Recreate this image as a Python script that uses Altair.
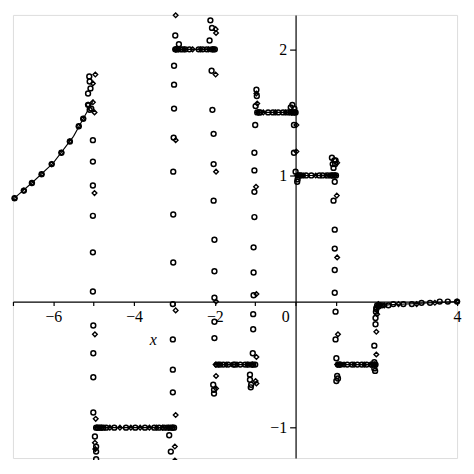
import altair as alt
import pandas as pd

# ---------------- data ----------------
# exact piecewise function, drawn as a thin line per segment
line_seg = ["A"] * 5 + ["B"] * 2 + ["C"] * 2 + ["D"] * 2 + ["E"] * 2 + ["F"] * 2 + ["G"] * 2 + ["H"] * 3
line_x = [-7.0, -6.5, -6.0, -5.5, -5.0,
          -5.0, -3.0,
          -3.0, -2.0,
          -2.0, -1.0,
          -1.0, 0.0,
          0.0, 1.0,
          1.0, 2.0,
          2.0, 3.0, 4.0]
line_y = [0.81, 0.95, 1.10, 1.31, 1.60,
          -1.0, -1.0,
          2.0, 2.0,
          -0.5, -0.5,
          1.5, 1.5,
          1.0, 1.0,
          -0.5, -0.5,
          -0.03, -0.015, 0.0]

# circle-marker approximation
circ_x = [
    # curve x < -5
    -6.96, -6.73, -6.53, -6.29, -6.04, -5.80, -5.59, -5.37, -5.26, -5.14,
    -5.11, -5.10, -5.14, -5.08, -5.10, -5.06,
    # column at -5
    -5.02, -5.02, -5.02, -5.02, -5.02, -5.02, -5.01, -5.01, -5.01, -5.01, -4.97, -4.94, -4.94, -4.94,
    # flat -1
    -4.94, -4.90, -4.86, -4.82, -4.76, -4.69, -4.49, -4.20, -3.97, -3.73, -3.50, -3.38, -3.26, -3.18, -3.10, -3.05, -3.01,
    # column at -3
    -2.98, -2.89, -3.01, -3.01, -3.01, -3.02, -3.03, -3.03, -3.03, -3.04, -3.04, -3.04, -3.04, -3.13, -3.09,
    # flat 2
    -2.98, -2.96, -2.93, -2.85, -2.80, -2.73, -2.63, -2.40, -2.30, -2.20, -2.08, -2.03, -2.0,
    # column at -2
    -2.11, -2.07, -2.13, -2.08, -2.06, -2.03, -2.03, -2.03, -2.01, -2.01, -2.01, -2.01, -2.01, -2.04, -2.02, -2.02,
    # flat -0.5
    -1.95, -1.87, -1.79, -1.67, -1.54, -1.50, -1.37, -1.25, -1.17, -1.09, -1.05, -1.0,
    # column at -1
    -0.97, -0.96, -0.99, -1.0, -1.02, -1.02, -1.02, -1.02, -1.04, -1.04, -1.04, -1.05, -1.05, -1.06, -1.13, -1.13, -1.11, -1.10,
    # flat 1.5
    -0.95, -0.90, -0.88, -0.68, -0.56, -0.43, -0.31, -0.19, -0.12, -0.07, -0.04, 0.0, -0.12, -0.03, -0.08,
    # column at 0
    -0.04, -0.04, 0.0, 0.04, 0.05,
    # flat 1
    0.06, 0.10, 0.14, 0.26, 0.39, 0.59, 0.67, 0.79, 0.87, 0.92, 0.96, 1.0,
    # column at 1
    0.90, 0.96, 0.99, 0.92, 0.98, 0.94, 0.97, 0.94, 0.97, 0.97, 0.97, 0.97, 0.99, 0.99, 1.01, 1.03, 1.01, 1.05,
    # flat -0.5
    1.05, 1.08, 1.12, 1.28, 1.40, 1.53, 1.64, 1.76, 1.89, 1.93, 1.96, 1.98,
    # column at 2
    1.97, 1.95, 1.95, 1.95, 1.98, 1.98, 2.0, 2.02, 2.0, 1.99,
    # tail
    2.05, 2.08, 2.14, 2.30, 2.42, 2.67, 2.88, 3.12, 3.33, 3.57, 3.77, 4.0,
]
circ_y = [
    0.82, 0.88, 0.94, 1.01, 1.09, 1.18, 1.27, 1.39, 1.45, 1.56,
    1.785, 1.745, 1.65, 1.69, 1.52, 1.53,
    1.28, 1.11, 0.92, 0.68, 0.39, 0.08, -0.19, -0.41, -0.60, -0.88, -1.07, -1.15, -1.19, -1.25,
    -1.0, -1.0, -1.0, -1.0, -1.0, -1.0, -1.0, -1.0, -1.0, -1.0, -1.0, -1.0, -1.0, -1.0, -1.0, -1.0, -1.0,
    2.11, 2.04, 1.87, 1.72, 1.53, 1.30, 1.03, 0.69, 0.31, -0.02, -0.30, -0.54, -0.72, -1.06, -1.19,
    2.0, 2.0, 2.0, 2.0, 2.0, 2.0, 2.0, 2.0, 2.0, 2.0, 2.0, 2.0, 2.0,
    2.23, 2.17, 2.07, 1.83, 1.52, 1.33, 1.09, 0.80, 0.49, 0.24, 0.03, -0.16, -0.29, -0.66, -0.70, -0.73,
    -0.5, -0.5, -0.5, -0.5, -0.5, -0.5, -0.5, -0.5, -0.5, -0.5, -0.5, -0.5,
    1.68, 1.63, 1.55, 1.40, 1.18, 1.04, 0.87, 0.67, 0.43, 0.23, 0.05, -0.10, -0.22, -0.41, -0.58, -0.62, -0.68, -0.66,
    1.5, 1.5, 1.5, 1.5, 1.5, 1.5, 1.5, 1.5, 1.5, 1.5, 1.5, 1.5, 1.54, 1.53, 1.56,
    1.40, 1.18, 1.03, 0.95, 0.97,
    1.0, 1.0, 1.0, 1.0, 1.0, 1.0, 1.0, 1.0, 1.0, 1.0, 1.0, 1.0,
    1.14, 1.12, 1.12, 1.09, 1.09, 1.06, 0.95, 0.80, 0.57, 0.42, 0.25, 0.07, -0.08, -0.30, -0.45, -0.59, -0.63, -0.61,
    -0.5, -0.5, -0.5, -0.5, -0.5, -0.5, -0.5, -0.5, -0.5, -0.5, -0.5, -0.5,
    -0.55, -0.53, -0.48, -0.35, -0.18, -0.13, -0.05, -0.03, -0.06, -0.08,
    -0.04, -0.03, -0.03, -0.03, -0.02, -0.02, -0.02, -0.01, -0.01, 0.0, 0.0, 0.0,
]

# diamond-marker approximation
diam_x = [
    -6.96, -6.73, -6.53, -6.29, -6.04, -5.80, -5.59, -5.37, -5.26, -5.14,
    -5.02, -4.96, -5.02, -4.98,
    -4.98, -4.97, -4.95, -4.97, -4.96,
    -4.92, -4.80, -4.60, -4.35, -4.08, -3.85, -3.62, -3.44, -3.30, -3.14, -3.04,
    -2.97, -2.97, -2.97, -2.97, -2.99, -2.99,
    -2.97, -2.90, -2.76, -2.55, -2.35, -2.15, -2.05,
    -1.98, -1.97, -1.98, -1.97, -1.97, -1.97, -1.97,
    -1.98, -1.90, -1.72, -1.45, -1.20, -1.07,
    -0.97, -0.95, -0.98, -0.97, -0.97, -0.97, -0.99,
    -0.93, -0.80, -0.50, -0.25, -0.10, -0.02,
    0.02, 0.02,
    0.04, 0.20, 0.50, 0.75, 0.90, 0.98,
    1.02, 1.03, 1.05, 1.03,
    1.03, 1.10, 1.20, 1.45, 1.70, 1.85, 1.95,
    2.0, 2.0, 2.02, 2.05, 2.03,
    2.10, 2.20, 2.55, 3.0, 3.45, 4.0,
]
diam_y = [
    0.82, 0.88, 0.94, 1.01, 1.09, 1.18, 1.27, 1.39, 1.45, 1.56,
    1.73, 1.80, 1.58, 1.50,
    0.86, -0.26, -0.93, -1.12, -1.17,
    -1.0, -1.0, -1.0, -1.0, -1.0, -1.0, -1.0, -1.0, -1.0, -1.0, -1.0,
    2.27, 1.28, -0.07, -0.90, -1.15, -1.26,
    2.0, 2.0, 2.0, 2.0, 2.0, 2.0, 2.0,
    2.16, 2.13, 1.80, 1.03, 0.0, -0.59, -0.69,
    -0.5, -0.5, -0.5, -0.5, -0.5, -0.5,
    1.65, 1.57, 0.91, 0.06, -0.44, -0.65, -0.63,
    1.5, 1.5, 1.5, 1.5, 1.5, 1.5,
    1.40, 1.19,
    1.0, 1.0, 1.0, 1.0, 1.0, 1.0,
    0.84, 0.35, -0.26, 1.10,
    -0.5, -0.5, -0.5, -0.5, -0.5, -0.5, -0.5,
    -0.42, -0.24, -0.10, -0.02, -0.04,
    -0.03, -0.03, -0.02, -0.02, -0.01, 0.0,
]

x_ticks = [-7, -6, -5, -4, -3, -2, -1, 0, 1, 2, 3, 4]
x_labelled = [-6, -4, -2, 4]
y_ticks = [-1, 1, 2]
origin_label = ["0"]

# ---------------- chart ----------------
XMIN, XMAX = -7.0, 4.0
YMIN, YMAX = -1.241, 2.273
W, H = 448, 447
x_off = -H * (0 - YMIN) / (YMAX - YMIN)
y_off = -W * (0 - XMIN) / (XMAX - XMIN)
FONT = "Liberation Serif"

line_df = pd.DataFrame({"x": line_x, "y": line_y, "seg": line_seg})
circ_df = pd.DataFrame({"x": circ_x, "y": circ_y})
diam_df = pd.DataFrame({"x": diam_x, "y": diam_y})
zero_df = pd.DataFrame({"x": [0.0], "y": [0.0], "t": origin_label})

label_test = " || ".join(f"datum.value == {v}" for v in x_labelled)

x_enc = alt.X(
    "x:Q",
    scale=alt.Scale(domain=[XMIN, XMAX], nice=False, zero=False),
    axis=alt.Axis(
        values=x_ticks, labelExpr=f"({label_test}) ? datum.label : ''",
        offset=x_off, grid=False, domainColor="black", domainWidth=1.2,
        tickColor="black", tickWidth=1.2, tickSize=4,
        labelFont=FONT, labelFontSize=16, labelColor="black", labelPadding=3,
        labelFlush=False, labelOverlap=False,
        title="x", titleFont=FONT, titleFontSize=16, titleFontStyle="italic",
        titleFontWeight="normal", titleColor="black",
        titleX=141, titleY=38, titleAlign="center", titleBaseline="middle",
        zindex=0,
    ),
)
y_enc = alt.Y(
    "y:Q",
    scale=alt.Scale(domain=[YMIN, YMAX], nice=False, zero=False),
    axis=alt.Axis(
        values=y_ticks, offset=y_off, grid=False, domainColor="black", domainWidth=1.2,
        tickColor="black", tickWidth=1.2, tickSize=6,
        labelFont=FONT, labelFontSize=16, labelColor="black", labelPadding=3,
        labelFlush=False, labelOverlap=False, title=None, zindex=0,
    ),
)

lines = alt.Chart(line_df).mark_line(color="black", strokeWidth=1.1).encode(
    x=x_enc, y=y_enc, detail="seg:N"
)
circles = alt.Chart(circ_df).mark_point(
    shape="circle", filled=False, color="black", strokeWidth=1.5, size=24, opacity=1
).encode(x=x_enc, y=y_enc)
diamonds = alt.Chart(diam_df).mark_point(
    shape="diamond", filled=False, color="black", strokeWidth=1.4, size=22, opacity=1
).encode(x=x_enc, y=y_enc)
zero = alt.Chart(zero_df).mark_text(
    font=FONT, fontSize=16, color="black", dx=-10, dy=16, align="center", baseline="middle"
).encode(x=x_enc, y=y_enc, text="t:N")

chart = alt.layer(lines, circles, diamonds, zero).properties(
    width=W, height=H,
    autosize=alt.AutoSizeParams(type="none"),
    padding={"left": 5, "top": 5, "right": 9, "bottom": 0},
).configure_view(stroke=None).configure(background="white")

chart.save("out.html", embed_options={"renderer": "svg", "actions": False})
